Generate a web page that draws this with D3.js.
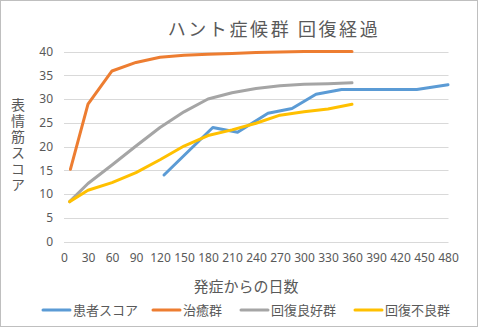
<!DOCTYPE html>
<html><head><meta charset="utf-8">
<script src="https://cdn.jsdelivr.net/npm/d3@7"></script>
<style>
html,body{margin:0;padding:0;background:#fff;}
svg{display:block;font-family:"Noto Sans CJK JP","Noto Sans",sans-serif;}
</style></head>
<body>
<script>
const title = "ハント症候群 回復経過";
const yTitle = "表情筋スコア";
const xTitle = "発症からの日数";
const seriesNames = ["患者スコア", "治癒群", "回復良好群", "回復不良群"];
const seriesColors = ["#5B9BD5", "#ED7D31", "#A5A5A5", "#FFC000"];
const xTicks = [0,30,60,90,120,150,180,210,240,270,300,330,360,390,420,450,480];
const yTicks = [0,5,10,15,20,25,30,35,40];

const patientDays   = [125,186,217,255,285,315,347,441,480];
const patientScores = [14,24,23,27,28,31,32,32,33];

const curedDays   = [8,30,60,90,120,150,180,210,240,270,300,330,360];
const curedScores = [15.2,28.9,35.9,37.7,38.8,39.2,39.4,39.6,39.8,39.9,40,40,40];

const goodDays   = [7,30,60,90,120,150,180,210,240,270,300,330,360];
const goodScores = [8.4,12.2,16.1,20.1,24.0,27.3,30.0,31.3,32.2,32.8,33.1,33.2,33.4];

const poorDays   = [7,30,60,90,120,150,180,210,240,270,300,330,360];
const poorScores = [8.4,10.8,12.4,14.5,17.2,20.1,22.3,23.5,24.9,26.6,27.3,27.9,28.9];

const W = 480, H = 328;
const svg = d3.select("body").append("svg").attr("width", W).attr("height", H);

svg.append("rect").attr("x",0.5).attr("y",0.5).attr("width",W-3).attr("height",H-2)
  .attr("fill","#fff").attr("stroke","#BFBFBF").attr("stroke-width",1);

const x = d3.scaleLinear().domain([0,480]).range([64,448]);
const y = d3.scaleLinear().domain([0,40]).range([241.5,51.5]);

// gridlines
svg.append("g").selectAll("line").data(yTicks).join("line")
  .attr("x1",64).attr("x2",448.5)
  .attr("y1",d=>Math.round(y(d))+0.5).attr("y2",d=>Math.round(y(d))+0.5)
  .attr("stroke","#D9D9D9").attr("stroke-width",1);

// y axis labels
const yAxis = d3.axisLeft(y).tickValues(yTicks).tickSize(0).tickPadding(0);
const gy = svg.append("g").attr("transform","translate(53,0)").call(yAxis);
gy.select(".domain").remove();
gy.selectAll("text").attr("fill","#595959").style("font-size","12px")
  .style("font-family","'Noto Sans','DejaVu Sans',sans-serif");

// x axis labels
const xAxis = d3.axisBottom(x).tickValues(xTicks).tickSize(0).tickPadding(0);
const gx = svg.append("g").attr("transform","translate(0,253)").call(xAxis);
gx.select(".domain").remove();
gx.selectAll("text").attr("fill","#595959").style("font-size","12px")
  .style("font-family","'Noto Sans','DejaVu Sans',sans-serif");

const line = d3.line().x(d=>x(d[0])).y(d=>y(d[1]));
const series = [
  d3.zip(patientDays, patientScores),
  d3.zip(curedDays, curedScores),
  d3.zip(goodDays, goodScores),
  d3.zip(poorDays, poorScores)
];
series.forEach((s,i)=>{
  svg.append("path").datum(s).attr("d",line).attr("fill","none")
    .attr("stroke",seriesColors[i]).attr("stroke-width",3)
    .attr("stroke-linejoin","round").attr("stroke-linecap","round");
});

// title
svg.append("text").attr("x",274).attr("y",36).attr("text-anchor","middle")
  .attr("fill","#595959").style("font-size","18px").style("letter-spacing","2.6px")
  .text(title);

// y title vertical
svg.append("text").attr("x",18).attr("y",146).attr("text-anchor","middle")
  .attr("fill","#595959").style("font-size","14px")
  .style("writing-mode","vertical-rl").style("text-orientation","upright")
  .style("letter-spacing","2px")
  .text(yTitle);

// x title
svg.append("text").attr("x",246).attr("y",292).attr("text-anchor","middle")
  .attr("fill","#595959").style("font-size","15px").text(xTitle);

// legend
const legendX = [43,153,241,355];
seriesNames.forEach((n,i)=>{
  const g = svg.append("g").attr("transform",`translate(${legendX[i]},310)`);
  g.append("line").attr("x1",0).attr("x2",27).attr("y1",0).attr("y2",0)
    .attr("stroke",seriesColors[i]).attr("stroke-width",3).attr("stroke-linecap","round");
  g.append("text").attr("x",30).attr("y",5).attr("fill","#595959")
    .style("font-size","13px").text(n);
});
</script>
</body></html>
